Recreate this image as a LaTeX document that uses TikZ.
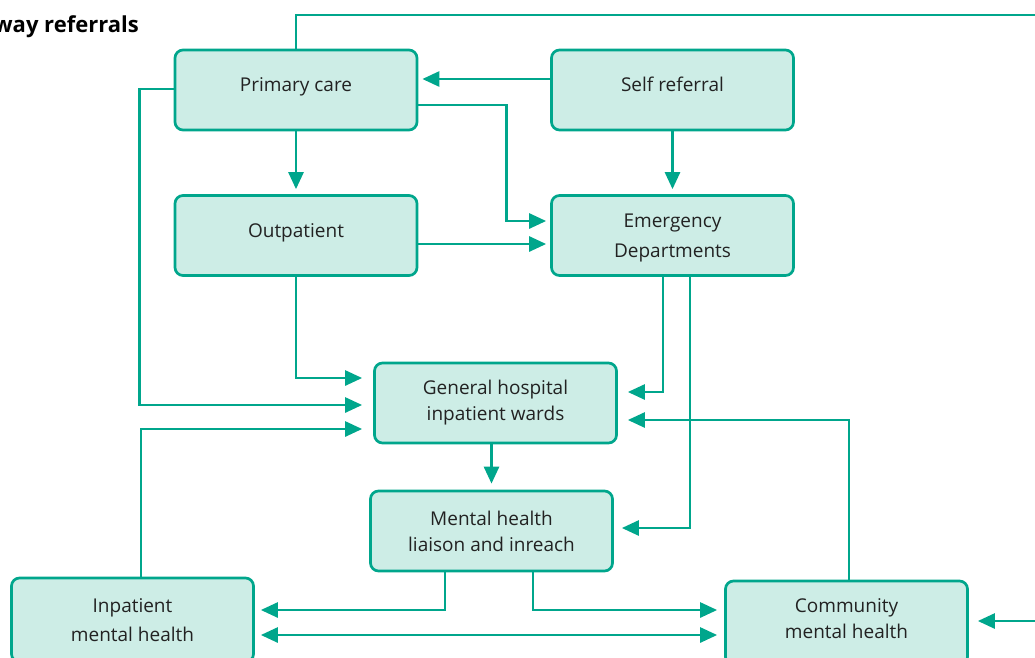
\documentclass[tikz,border=0pt]{standalone}
\usepackage{fontspec}
\setmainfont{Open Sans}
\usetikzlibrary{arrows.meta}
\definecolor{lineteal}{RGB}{0,166,140}
\definecolor{boxfill}{RGB}{205,237,230}
\definecolor{inktext}{RGB}{34,34,34}
\begin{document}
\begin{tikzpicture}[x=1pt,y=-1pt,
  box/.style={draw=lineteal, fill=boxfill, line width=2.7pt, rounded corners=8pt,
    minimum width=242pt, minimum height=80pt, inner sep=0pt, align=center,
    font=\fontsize{19}{#1}\selectfont, text=inktext},
  box/.default=30,
  oneline/.style={text height=12pt, text depth=9pt},
  link/.style={draw=lineteal, line width=2.7pt},
  arr/.style={link, -{Triangle[length=17pt,width=15pt]}},
  darr/.style={link, {Triangle[length=17pt,width=15pt]}-{Triangle[length=17pt,width=15pt]}}]
\useasboundingbox (0,0) rectangle (1035,657);

% heading
\node[anchor=base east, font=\fontsize{22}{26}\selectfont\bfseries, text=black, inner sep=0pt] (title) at (139,32) {way referrals};

% services
\node[box, oneline] (pc) at (296,90) {Primary care};
\node[box, oneline] (sr) at (672.5,90) {Self referral};
\node[box, oneline] (op) at (296,235.5) {Outpatient};
\node[box, text height=43pt, text depth=0pt] (ed) at (672.5,235.5) {Emergency\\Departments};
\node[box=26] (gh) at (495.5,403) {General hospital\\inpatient wards};
\node[box=26] (ml) at (491.5,531) {Mental health\\liaison and inreach};
\node[box=29, minimum height=84pt] (im) at (132.5,620) {Inpatient\\mental health};
\node[box=26, minimum height=84pt, text height=30pt, text depth=0pt] (cm) at (846.5,623) {Community\\mental health};

% loose ends leaving the picture
\coordinate (topright) at (1045,15);
\coordinate (rightin) at (1045,621);

% referral routes
\draw[link] (pc.north) |- (topright);
\draw[arr, shorten >=4pt] ([yshift=11pt]sr.west) -- ([yshift=11pt]pc.east);
\draw[arr, shorten >=4pt] ([yshift=-15pt]pc.east) -- ++(88,0) |- ([yshift=14.5pt]ed.west);
\draw[arr, shorten >=5pt] (pc.south) -- (op.north);
\draw[arr, shorten >=5pt] (sr.south) -- (ed.north);
\draw[arr, shorten >=4pt] ([yshift=-8.5pt]op.east) -- ([yshift=-8.5pt]ed.west);
\draw[arr, shorten >=11pt] (op.south) |- ([yshift=25pt]gh.west);
\draw[arr, shorten >=11pt] ([yshift=1pt]pc.west) -- ++(-34,0) |- ([yshift=-2pt]gh.west);
\draw[arr, shorten >=11pt] ([xshift=8.5pt]im.north) |- ([yshift=-26pt]gh.west);
\draw[arr, shorten >=10pt] ([xshift=-9.5pt]ed.south) |- ([yshift=11pt]gh.east);
\draw[arr, shorten >=8pt] ([xshift=17.5pt]ed.south) |- ([yshift=3pt]ml.east);
\draw[arr, shorten >=10pt] ([xshift=2.5pt]cm.north) |- ([yshift=-17pt]gh.east);
\draw[arr, shorten >=6pt] (ml.north |- gh.south) -- (ml.north);
\draw[arr, shorten >=6pt] ([xshift=-46.5pt]ml.south) |- ([yshift=10pt]im.east);
\draw[arr, shorten >=7pt] ([xshift=41.5pt]ml.south) |- ([yshift=13pt]cm.west);
\draw[darr, shorten <=6pt, shorten >=7pt] ([yshift=-15pt]im.east) -- ([yshift=-12pt]cm.west);
\draw[arr, shorten >=9pt] (rightin) -- ([yshift=2pt]cm.east);
\end{tikzpicture}
\end{document}
